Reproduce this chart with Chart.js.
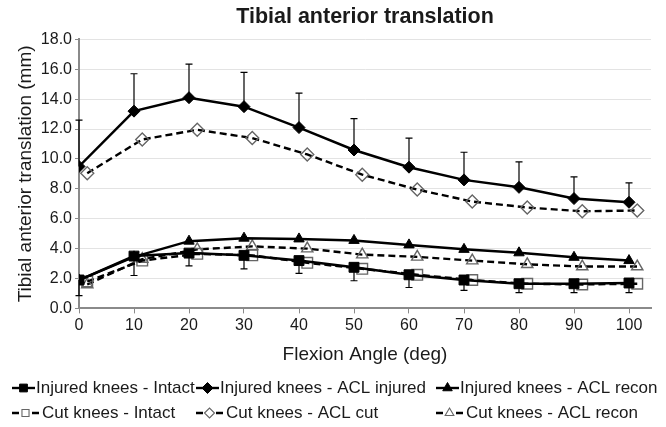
<!DOCTYPE html>
<html><head><meta charset="utf-8">
<script src="https://cdn.jsdelivr.net/npm/chart.js@4/dist/chart.umd.min.js"></script>
<style>html,body{margin:0;padding:0;background:#fff}#wrap{width:666px;height:427px;position:relative}</style>
</head><body><div id="wrap"><canvas id="c" width="666" height="427"></canvas></div>
<script>
// ---- data ----
const angles    = [0, 10, 20, 30, 40, 50, 60, 70, 80, 90, 100];
const cutAngles = [1.5, 11.5, 21.5, 31.5, 41.5, 51.5, 61.5, 71.5, 81.5, 91.5, 101.5];
const xTickValues = [0, 10, 20, 30, 40, 50, 60, 70, 80, 90, 100];
const yTickValues = [0, 2, 4, 6, 8, 10, 12, 14, 16, 18];

const injuredIntact      = [1.9, 3.5, 3.7, 3.55, 3.2, 2.75, 2.25, 1.9, 1.65, 1.65, 1.7];
const injuredIntactSD    = [1.05, 1.3, 0.85, 0.9, 0.85, 0.9, 0.85, 0.7, 0.6, 0.6, 0.65];   // drawn downward
const injuredAclInjured  = [9.5, 13.2, 14.1, 13.5, 12.1, 10.6, 9.45, 8.6, 8.1, 7.35, 7.1];
const injuredAclInjuredSD= [3.1, 2.5, 2.25, 2.3, 2.3, 2.1, 1.95, 1.85, 1.7, 1.45, 1.3];     // drawn upward
const injuredAclRecon    = [1.9, 3.45, 4.5, 4.7, 4.65, 4.55, 4.25, 3.95, 3.72, 3.42, 3.2];
const cutIntact          = [1.8, 3.2, 3.65, 3.55, 3.05, 2.65, 2.25, 1.9, 1.65, 1.6, 1.65];
const cutAclCut          = [9.05, 11.3, 11.95, 11.4, 10.3, 8.95, 7.95, 7.15, 6.75, 6.5, 6.55];
const cutAclRecon        = [1.6, 3.3, 3.95, 4.15, 4.0, 3.6, 3.45, 3.2, 2.95, 2.8, 2.8];

const seriesLabels = [
  'Injured knees - Intact', 'Injured knees - ACL injured', 'Injured knees - ACL recon',
  'Cut knees - Intact', 'Cut knees - ACL cut', 'Cut knees - ACL recon'
];

const FONT = "'Liberation Sans', Arial, sans-serif";
const TXT = '#1a1a1a';
const AXIS = '#8a8a8a';

function pts(xs, ys) { return xs.map((x, i) => ({x: x, y: ys[i]})); }

function solid(label, ys, style, r) {
  return {label, data: pts(angles, ys), borderColor: '#000', borderWidth: 2.5,
    pointStyle: style, pointRadius: r, pointBackgroundColor: '#000', pointBorderColor: '#000',
    pointBorderWidth: 1, tension: 0, fill: false};
}
function dashed(label, ys, style, r) {
  return {label, data: pts(cutAngles, ys), borderColor: '#000', borderWidth: 2.4, borderDash: [7, 4],
    pointStyle: style, pointRadius: r, pointBackgroundColor: 'rgba(255,255,255,0)', pointBorderColor: '#666',
    pointBorderWidth: 1.4, tension: 0, fill: false};
}

const datasets = [
  solid(seriesLabels[0], injuredIntact, 'rect', 7),
  solid(seriesLabels[1], injuredAclInjured, 'rectRot', 6),
  solid(seriesLabels[2], injuredAclRecon, 'triangle', 6),
  dashed(seriesLabels[3], cutIntact, 'rect', 7.5),
  dashed(seriesLabels[4], cutAclCut, 'rectRot', 6.5),
  dashed(seriesLabels[5], cutAclRecon, 'triangle', 6.5)
];

const errorBars = [
  {dataset: 0, sd: injuredIntactSD, dir: -1},
  {dataset: 1, sd: injuredAclInjuredSD, dir: 1}
];

const errorBarPlugin = {
  id: 'errorBars',
  beforeDatasetsDraw(chart) {
    const {ctx, scales: {x, y}} = chart;
    ctx.save();
    ctx.strokeStyle = '#000';
    ctx.lineWidth = 1.2;
    errorBars.forEach(eb => {
      const ds = chart.data.datasets[eb.dataset];
      ds.data.forEach((p, i) => {
        const px = x.getPixelForValue(p.x);
        const py0 = y.getPixelForValue(p.y);
        const py1 = y.getPixelForValue(p.y + eb.dir * eb.sd[i]);
        ctx.beginPath();
        ctx.moveTo(px, py0); ctx.lineTo(px, py1);
        ctx.moveTo(px - 3.5, py1); ctx.lineTo(px + 3.5, py1);
        ctx.stroke();
      });
    });
    ctx.restore();
  }
};

const legendPlugin = {
  id: 'gridLegend',
  afterDraw(chart) {
    const ctx = chart.ctx;
    const cols = [12, 196, 436];
    const rows = [388, 413];
    ctx.save();
    chart.data.datasets.forEach((ds, i) => {
      const col = i % 3, row = Math.floor(i / 3);
      const x0 = cols[col], y = rows[row];
      ctx.strokeStyle = '#000';
      ctx.lineWidth = 2.4;
      ctx.setLineDash([]);
      let textX;
      if (ds.borderDash) {
        ctx.beginPath();
        ctx.moveTo(x0, y); ctx.lineTo(x0 + 7, y);
        ctx.moveTo(x0 + 20, y); ctx.lineTo(x0 + 27, y);
        ctx.stroke();
        textX = x0 + 30;
        ctx.fillStyle = 'rgba(255,255,255,0)';
        ctx.strokeStyle = ds.pointBorderColor;
        ctx.lineWidth = 1.1;
        Chart.helpers.drawPoint(ctx, {pointStyle: ds.pointStyle, radius: 5, rotation: 0, borderWidth: 1.1}, x0 + 13.5, y);
      } else {
        ctx.beginPath();
        ctx.moveTo(x0, y); ctx.lineTo(x0 + 23, y);
        ctx.stroke();
        textX = x0 + 24;
        ctx.fillStyle = '#000';
        ctx.strokeStyle = '#000';
        ctx.lineWidth = 1;
        Chart.helpers.drawPoint(ctx, {pointStyle: ds.pointStyle, radius: 5.5, rotation: 0, borderWidth: 1}, x0 + 11.5, y);
      }
      ctx.fillStyle = TXT;
      ctx.font = '17px ' + FONT;
      ctx.textBaseline = 'middle';
      ctx.textAlign = 'left';
      ctx.fillText(ds.label, textX, y + 0.5);
    });
    ctx.restore();
  }
};

new Chart(document.getElementById('c'), {
  type: 'line',
  data: {datasets},
  plugins: [errorBarPlugin, legendPlugin],
  options: {
    responsive: false,
    animation: false,
    layout: {padding: {left: 10.6, right: 15, top: 0, bottom: 56.6}},
    plugins: {
      legend: {display: false},
      tooltip: {enabled: false},
      title: {
        display: true, text: 'Tibial anterior translation', fullSize: false,
        color: TXT, font: {family: FONT, size: 21.5, weight: 'bold'},
        padding: {top: 4, bottom: 9.6}
      }
    },
    scales: {
      x: {
        type: 'linear', min: 0, max: 104,
        afterBuildTicks: s => { s.ticks = xTickValues.map(v => ({value: v})); },
        ticks: {color: TXT, font: {family: FONT, size: 16}, padding: 3, maxRotation: 0,
          callback: v => String(v)},
        grid: {drawOnChartArea: false, drawTicks: true, tickLength: 5, tickColor: AXIS, tickWidth: 1},
        border: {display: true, color: AXIS, width: 2},
        title: {display: true, text: 'Flexion Angle (deg)', color: TXT,
          font: {family: FONT, size: 19}, padding: {top: 5, bottom: 4}}
      },
      y: {
        min: 0, max: 18,
        afterBuildTicks: s => { s.ticks = yTickValues.map(v => ({value: v})); },
        afterFit: s => { s.width = 68.4; },
        ticks: {color: TXT, font: {family: FONT, size: 16}, padding: 3,
          callback: v => Number(v).toFixed(1)},
        grid: {color: '#e3e3e3', lineWidth: 1, drawTicks: true, tickLength: 4, tickColor: AXIS},
        border: {display: true, color: AXIS, width: 2},
        title: {display: true, text: 'Tibial anterior translation (mm)', color: TXT,
          font: {family: FONT, size: 19}, padding: {top: 4, bottom: 4}}
      }
    }
  }
});
</script>
</body></html>
